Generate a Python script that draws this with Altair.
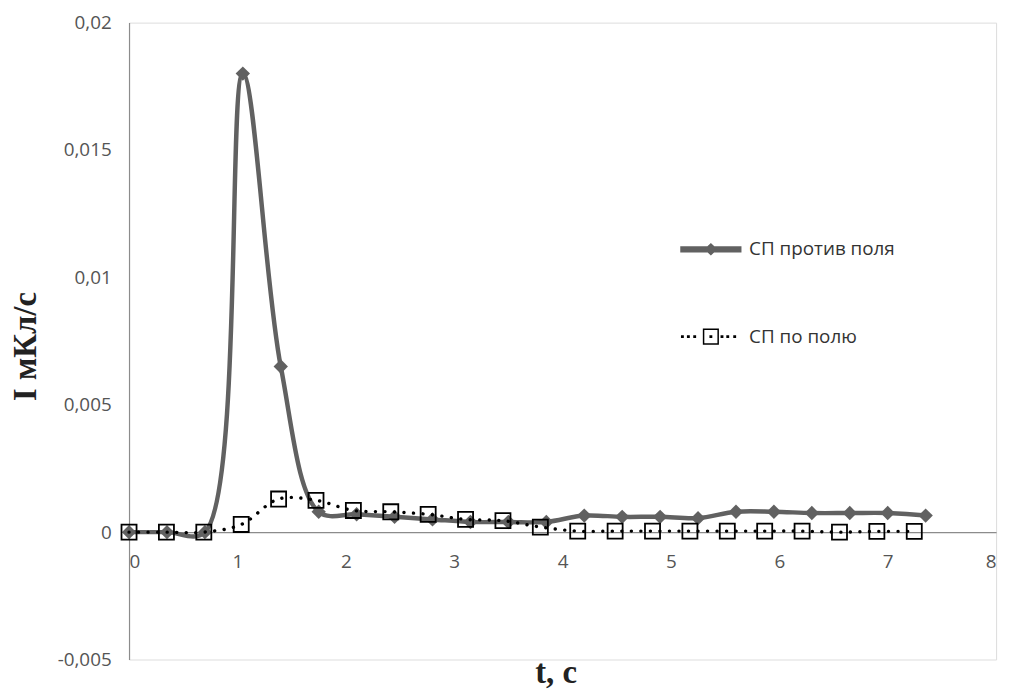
import altair as alt
import pandas as pd

# --- data ---
series_names = ["СП против поля", "СП по полю"]

t_anti = [0.0, 0.35, 0.7, 1.05, 1.4, 1.75, 2.1, 2.45, 2.8, 3.15, 3.5,
          3.85, 4.2, 4.55, 4.9, 5.25, 5.6, 5.95, 6.3, 6.65, 7.0, 7.35]
i_anti = [0.0, 0.0, 0.0, 0.018, 0.0065, 0.0008, 0.0007, 0.0006, 0.0005, 0.0004, 0.0004,
          0.0004, 0.00065, 0.0006, 0.0006, 0.00055, 0.0008, 0.0008, 0.00075, 0.00075, 0.00075, 0.00065]

t_with = [0.0, 0.345, 0.69, 1.035, 1.38, 1.725, 2.07, 2.415, 2.76, 3.105, 3.45,
          3.795, 4.14, 4.485, 4.83, 5.175, 5.52, 5.865, 6.21, 6.555, 6.9, 7.245]
i_with = [0.0, 0.0, 0.0, 0.0003, 0.0013, 0.00125, 0.00085, 0.0008, 0.0007, 0.0005, 0.00045,
          0.0002, 0.00004, 0.00004, 0.00004, 0.00004, 0.00004, 0.00004, 0.00004, 0.0, 0.00003, 0.00003]

x_ticks = [0, 1, 2, 3, 4, 5, 6, 7, 8]
y_ticks = [-0.005, 0, 0.005, 0.01, 0.015, 0.02]
x_domain = [0, 8]
y_domain = [-0.005, 0.02]

df_anti = pd.DataFrame({"t": t_anti, "I": i_anti, "series": series_names[0]})
df_with = pd.DataFrame({"t": t_with, "I": i_with, "series": series_names[1]})
df = pd.concat([df_anti, df_with], ignore_index=True)

W, H = 874, 642
GRAY = "#616161"
LABEL_FONT = "Open Sans"
TITLE_FONT = "Liberation Serif"

x_enc = alt.X(
    "t:Q",
    scale=alt.Scale(domain=x_domain, nice=False, zero=False),
    axis=alt.Axis(
        values=x_ticks, title="t, с", offset=-H * (0 - y_domain[0]) / (y_domain[1] - y_domain[0]),
        grid=False, ticks=False, domainColor="#8c8c8c", domainWidth=1.2,
        labelFont=LABEL_FONT, labelFontSize=19, labelColor="#555555", labelPadding=21,
        titleFont=TITLE_FONT, titleFontSize=33, titleFontWeight="bold", titleColor="#222222",
        titleX=430, titleY=142, titleBaseline="middle",
    ),
)
y_enc = alt.Y(
    "I:Q",
    scale=alt.Scale(domain=y_domain, nice=False, zero=False),
    axis=alt.Axis(
        values=y_ticks, title="I мКл/с",
        labelExpr="replace(toString(datum.value), '.', ',')",
        grid=False, ticks=False, domainColor="#8c8c8c", domainWidth=1.2,
        labelFont=LABEL_FONT, labelFontSize=19, labelColor="#555555", labelPadding=18,
        titleFont=TITLE_FONT, titleFontSize=33, titleFontWeight="bold", titleColor="#222222",
        titleX=-104, titleY=326, titleBaseline="middle",
    ),
)

base_anti = alt.Chart(df).transform_filter(alt.datum.series == series_names[0])
base_with = alt.Chart(df).transform_filter(alt.datum.series == series_names[1])

line_anti = base_anti.mark_line(interpolate="catmull-rom", color=GRAY, strokeWidth=4.5).encode(x=x_enc, y=y_enc)
pts_anti = base_anti.mark_point(shape="diamond", filled=True, color=GRAY, size=210, opacity=1).encode(x=x_enc, y=y_enc)
line_with = base_with.mark_line(interpolate="catmull-rom", color="black", strokeWidth=3.4,
                                strokeDash=[0.1, 9.5], strokeCap="round").encode(x=x_enc, y=y_enc)
pts_with = base_with.mark_point(shape="square", filled=False, color="black", size=230,
                                strokeWidth=1.8, opacity=1).encode(x=x_enc, y=y_enc)

# legend symbols: line + marker drawn as custom paths
path_anti = ("M-4.3,-0.34H4.3V0.34H-4.3Z "
             "M0,-0.75L0.8,0L0,0.75L-0.8,0Z")
dot = "M{x},-0.1h0.2v0.2h-0.2Z"
path_with = ("M-1.05,-1.05H1.05V1.05H-1.05Z " +
             " ".join(dot.format(x=v) for v in [-4.2, -3.34, -2.43, -0.1, 1.5, 2.33, 3.33]))

leg = alt.Legend(
    title=None, orient="none", legendX=577, legendY=219,
    labelFont=LABEL_FONT, labelFontSize=19, labelColor="#333333",
    labelOffset=29, rowPadding=67, symbolSize=196, symbolStrokeWidth=1.5,
)
legend_layer = alt.Chart(df).mark_point(filled=False, size=196, strokeWidth=1.5, opacity=1).encode(
    shape=alt.Shape("series:N", scale=alt.Scale(domain=series_names, range=[path_anti, path_with]), legend=leg),
    fill=alt.Fill("series:N", scale=alt.Scale(domain=series_names, range=[GRAY, "transparent"]), legend=leg),
    stroke=alt.Stroke("series:N", scale=alt.Scale(domain=series_names, range=[GRAY, "black"]), legend=leg),
).transform_filter("false")

chart = alt.layer(line_anti, pts_anti, line_with, pts_with, legend_layer).properties(
    width=W, height=H,
    autosize=alt.AutoSizeParams(type="none"),
    padding={"left": 122, "top": 12, "right": 11, "bottom": 29},
).configure_view(stroke=None).configure(background="white")

chart.save("out.html", embed_options={"renderer": "svg", "actions": False})
